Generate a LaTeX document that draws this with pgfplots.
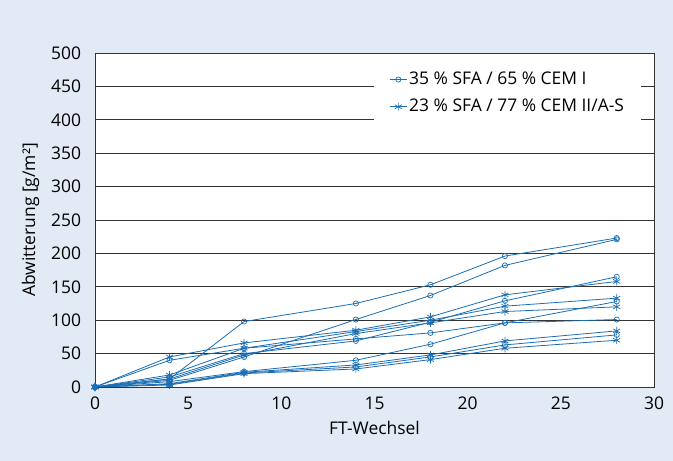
\documentclass[border=0pt]{standalone}
\usepackage{pgfplots}
\pgfplotsset{compat=1.18}
\usepackage{fontspec}
\setmainfont{Open Sans}
\definecolor{bgblue}{RGB}{226,234,245}
\definecolor{lineblue}{RGB}{28,110,180}
\newcommand{\fs}{\fontsize{17.5}{21}\selectfont}
\begin{document}
\fs
\begin{tikzpicture}
\fill[bgblue] (-95bp,-74bp) rectangle (578bp,387bp);
\begin{axis}[
  at={(0,0)}, anchor=south west,
  scale only axis, width=559bp, height=334bp,
  xmin=0, xmax=30, ymin=0, ymax=500,
  xtick={0,5,...,30}, ytick={0,50,...,500},
  axis background/.style={fill=white},
  ymajorgrids, major grid style={black!80, line width=0.8pt},
  axis line style={black!80, line width=0.9pt},
  major tick length=0pt,
  yticklabel style={xshift=-8bp},
  xticklabel style={yshift=-4bp},
  /pgf/number format/assume math mode=true,
  ticklabel style={font=\fs},
  label style={font=\fs},
  xlabel={FT-Wechsel}, ylabel={Abwitterung [g/m²]},
  legend cell align=left,
  legend style={at={(0.977,0.962)}, anchor=north east, draw=none, fill=white,
    font=\fs, inner xsep=15bp, inner ysep=4bp,
    row sep=8bp},
  legend image code/.code={\draw[#1] (0cm,0cm) -- (0.6cm,0cm);
    \draw[#1, only marks] plot coordinates {(0.3cm,0cm)};},
  every axis plot/.append style={lineblue, line width=0.8pt},
]
\addplot[mark=o, mark size=2.6bp, mark options={line width=0.7pt}] coordinates {(0,0) (4,12) (8,98) (14,125) (18,153) (22,196) (28,223)};
\addlegendentry{35 \% SFA / 65 \% CEM I}
\addplot[mark=asterisk, mark size=4bp, mark options={line width=0.7pt}] coordinates {(0,0) (4,45) (8,66) (14,85) (18,105) (22,138) (28,158)};
\addlegendentry{23 \% SFA / 77 \% CEM II/A-S}
\addplot[forget plot, mark=o, mark size=2.6bp, mark options={line width=0.7pt}] coordinates {(0,0) (4,10) (8,45) (14,101) (18,137) (22,182) (28,221)};
\addplot[forget plot, mark=o, mark size=2.6bp, mark options={line width=0.7pt}] coordinates {(0,0) (4,40) (8,58) (14,72) (18,81) (22,96) (28,101)};
\addplot[forget plot, mark=o, mark size=2.6bp, mark options={line width=0.7pt}] coordinates {(0,0) (4,15) (8,50) (14,69) (18,97) (22,129) (28,165)};
\addplot[forget plot, mark=o, mark size=2.6bp, mark options={line width=0.7pt}] coordinates {(0,0) (4,8) (8,23) (14,40) (18,64) (22,96) (28,128)};
\addplot[forget plot, mark=o, mark size=2.6bp, mark options={line width=0.7pt}] coordinates {(0,0) (4,4) (8,21) (14,30) (18,45) (22,63) (28,78)};
\addplot[forget plot, mark=asterisk, mark size=4bp, mark options={line width=0.7pt}] coordinates {(0,0) (4,18) (8,58) (14,83) (18,100) (22,121) (28,133)};
\addplot[forget plot, mark=asterisk, mark size=4bp, mark options={line width=0.7pt}] coordinates {(0,0) (4,12) (8,48) (14,80) (18,96) (22,113) (28,120)};
\addplot[forget plot, mark=asterisk, mark size=4bp, mark options={line width=0.7pt}] coordinates {(0,0) (4,5) (8,22) (14,33) (18,48) (22,69) (28,84)};
\addplot[forget plot, mark=asterisk, mark size=4bp, mark options={line width=0.7pt}] coordinates {(0,0) (4,3) (8,20) (14,27) (18,41) (22,58) (28,70)};
\end{axis}
\end{tikzpicture}
\end{document}
